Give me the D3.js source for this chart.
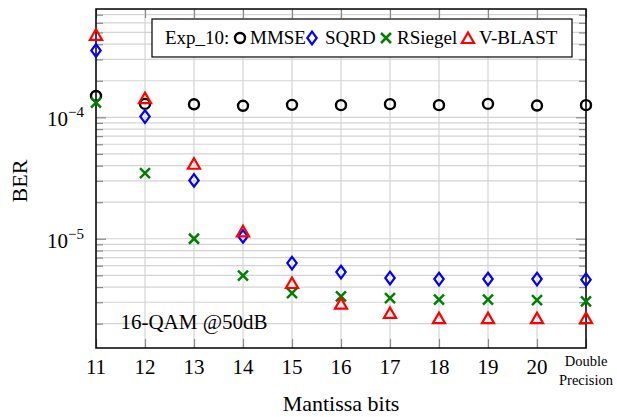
<!DOCTYPE html>
<html><head><meta charset="utf-8">
<script src="https://cdn.jsdelivr.net/npm/d3@7"></script>
<style>
body{margin:0;background:#fff}
text{font-family:"Liberation Serif","Times New Roman",serif;fill:#000}
</style>
</head><body>
<svg id="c" width="617" height="417"></svg>
<script>
const xValues = [11, 12, 13, 14, 15, 16, 17, 18, 19, 20, 21];
const xTickLabels = ["11", "12", "13", "14", "15", "16", "17", "18", "19", "20", "Double Precision"];
const mmse    = [1.50e-4, 1.29e-4, 1.28e-4, 1.244e-4, 1.267e-4, 1.26e-4, 1.284e-4, 1.26e-4, 1.29e-4, 1.25e-4, 1.26e-4];
const sqrd    = [3.55e-4, 1.015e-4, 3.02e-5, 1.045e-5, 6.3e-6, 5.32e-6, 4.75e-6, 4.66e-6, 4.66e-6, 4.66e-6, 4.6e-6];
const rsiegel = [1.32e-4, 3.47e-5, 1.0e-5, 4.96e-6, 3.57e-6, 3.35e-6, 3.25e-6, 3.15e-6, 3.15e-6, 3.12e-6, 3.05e-6];
const vblast  = [4.65e-4, 1.40e-4, 4.03e-5, 1.12e-5, 4.2e-6, 2.84e-6, 2.38e-6, 2.16e-6, 2.16e-6, 2.16e-6, 2.16e-6];
const seriesNames = ["MMSE", "SQRD", "RSiegel", "V-BLAST"];
const legendTitle = "Exp_10:";
const yMajorTicks = [1e-5, 1e-4];
const yMinorTicks = [2e-6,3e-6,4e-6,5e-6,6e-6,7e-6,8e-6,9e-6,2e-5,3e-5,4e-5,5e-5,6e-5,7e-5,8e-5,9e-5,2e-4,3e-4,4e-4,5e-4,6e-4,7e-4];
const yDomain = [1.26e-6, 7.8e-4];
const annotation = "16-QAM @50dB";

const L = 96, R = 586, T = 9, B = 348;
const svg = d3.select("#c");
const x = d3.scaleLinear().domain([11, 21]).range([L, R]);
const y = d3.scaleLog().domain(yDomain).range([B, T]);

const gridColor = "#d4d4d4", tickColor = "#8a8a8a";
// grid
const g = svg.append("g");
g.selectAll(".gx").data(xValues).join("line")
  .attr("x1", d => x(d)).attr("x2", d => x(d)).attr("y1", T).attr("y2", B)
  .attr("stroke", gridColor).attr("stroke-width", 1.2);
g.selectAll(".gy").data(yMinorTicks.concat(yMajorTicks)).join("line")
  .attr("x1", L).attr("x2", R).attr("y1", d => y(d)).attr("y2", d => y(d))
  .attr("stroke", gridColor).attr("stroke-width", 1.2);

// ticks via d3 axes (inside)
function styleAxis(sel){
  sel.select(".domain").remove();
  sel.selectAll(".tick line").attr("stroke", tickColor).attr("stroke-width", 1.2);
  sel.selectAll(".tick text").remove();
}
svg.append("g").attr("transform", `translate(0,${B})`)
  .call(d3.axisBottom(x).tickValues(xValues).tickSizeInner(-9).tickSizeOuter(0)).call(styleAxis);
svg.append("g").attr("transform", `translate(0,${T})`)
  .call(d3.axisTop(x).tickValues(xValues).tickSizeInner(-9).tickSizeOuter(0)).call(styleAxis);
svg.append("g").attr("transform", `translate(${L},0)`)
  .call(d3.axisLeft(y).tickValues(yMajorTicks).tickSizeInner(-10).tickSizeOuter(0)).call(styleAxis);
svg.append("g").attr("transform", `translate(${L},0)`)
  .call(d3.axisLeft(y).tickValues(yMinorTicks).tickSizeInner(-7).tickSizeOuter(0)).call(styleAxis);
svg.append("g").attr("transform", `translate(${R},0)`)
  .call(d3.axisRight(y).tickValues(yMajorTicks).tickSizeInner(-10).tickSizeOuter(0)).call(styleAxis);
svg.append("g").attr("transform", `translate(${R},0)`)
  .call(d3.axisRight(y).tickValues(yMinorTicks).tickSizeInner(-7).tickSizeOuter(0)).call(styleAxis);

// frame
svg.append("rect").attr("x", L).attr("y", T).attr("width", R - L).attr("height", B - T)
  .attr("fill", "none").attr("stroke", "#000").attr("stroke-width", 1.5);

// x tick labels
xTickLabels.forEach((lab, i) => {
  if (lab.indexOf(" ") < 0) {
    svg.append("text").attr("x", x(xValues[i])).attr("y", 374).attr("text-anchor", "middle")
      .attr("font-size", 21).text(lab);
  } else {
    const parts = lab.split(" ");
    const t = svg.append("text").attr("x", x(xValues[i])).attr("text-anchor", "middle").attr("font-size", 14.5);
    t.append("tspan").attr("x", x(xValues[i])).attr("y", 366).text(parts[0]);
    t.append("tspan").attr("x", x(xValues[i])).attr("y", 385).text(parts[1]);
  }
});
// y tick labels
yMajorTicks.forEach(v => {
  const e = Math.round(Math.log10(v));
  const t = svg.append("text").attr("x", 84).attr("y", y(v) + 9).attr("text-anchor", "end").attr("font-size", 21);
  t.append("tspan").text("10");
  t.append("tspan").attr("font-size", 15).attr("dy", -9).text("\u2212" + Math.abs(e));
});

// axis labels
svg.append("text").attr("x", 341).attr("y", 411).attr("text-anchor", "middle").attr("font-size", 22).text("Mantissa bits");
svg.append("text").attr("transform", "translate(27,181) rotate(-90)").attr("text-anchor", "middle").attr("font-size", 22).text("BER");

// annotation
svg.append("text").attr("x", 194).attr("y", 329).attr("text-anchor", "middle").attr("font-size", 21).text(annotation);

// markers
const sw = 2.2;
function drawMarker(sel, type, color){
  if (type === "circle") {
    sel.append("circle").attr("r", 5).attr("fill", "none").attr("stroke", color).attr("stroke-width", sw + 0.2);
  } else if (type === "diamond") {
    sel.append("path").attr("d", "M0,-6.3L4.7,0L0,6.3L-4.7,0Z").attr("fill", "none").attr("stroke", color).attr("stroke-width", sw);
  } else if (type === "x") {
    sel.append("path").attr("d", "M-5,-5L5,5M-5,5L5,-5").attr("fill", "none").attr("stroke", color).attr("stroke-width", sw + 0.3);
  } else {
    const r = 7;
    sel.append("path").attr("d", `M0,${-r}L${0.866*r},${0.5*r}L${-0.866*r},${0.5*r}Z`)
      .attr("fill", "none").attr("stroke", color).attr("stroke-width", sw).attr("stroke-linejoin", "miter");
  }
}
const series = [
  {vals: mmse, type: "circle", color: "#000"},
  {vals: sqrd, type: "diamond", color: "#0000ff"},
  {vals: rsiegel, type: "x", color: "#008000"},
  {vals: vblast, type: "triangle", color: "#ff0000"}
];
series.forEach(s => {
  s.vals.forEach((v, i) => {
    const m = svg.append("g").attr("transform", `translate(${x(xValues[i])},${y(v)})`);
    drawMarker(m, s.type, s.color);
  });
});

// legend
const lg = svg.append("g");
lg.append("rect").attr("x", 152).attr("y", 19).attr("width", 420).attr("height", 38)
  .attr("fill", "#fff").attr("stroke", "#000").attr("stroke-width", 1.2);
lg.append("text").attr("x", 165).attr("y", 44).attr("font-size", 19).text(legendTitle);
const legendPos = [[240, 250], [312, 325], [386, 397], [468, 479]];
series.forEach((s, i) => {
  const m = lg.append("g").attr("transform", `translate(${legendPos[i][0]},${s.type === "triangle" ? 39.5 : 38})`);
  drawMarker(m, s.type, s.color);
  lg.append("text").attr("x", legendPos[i][1]).attr("y", 44).attr("font-size", 19).text(seriesNames[i]);
});
</script>
</body></html>
